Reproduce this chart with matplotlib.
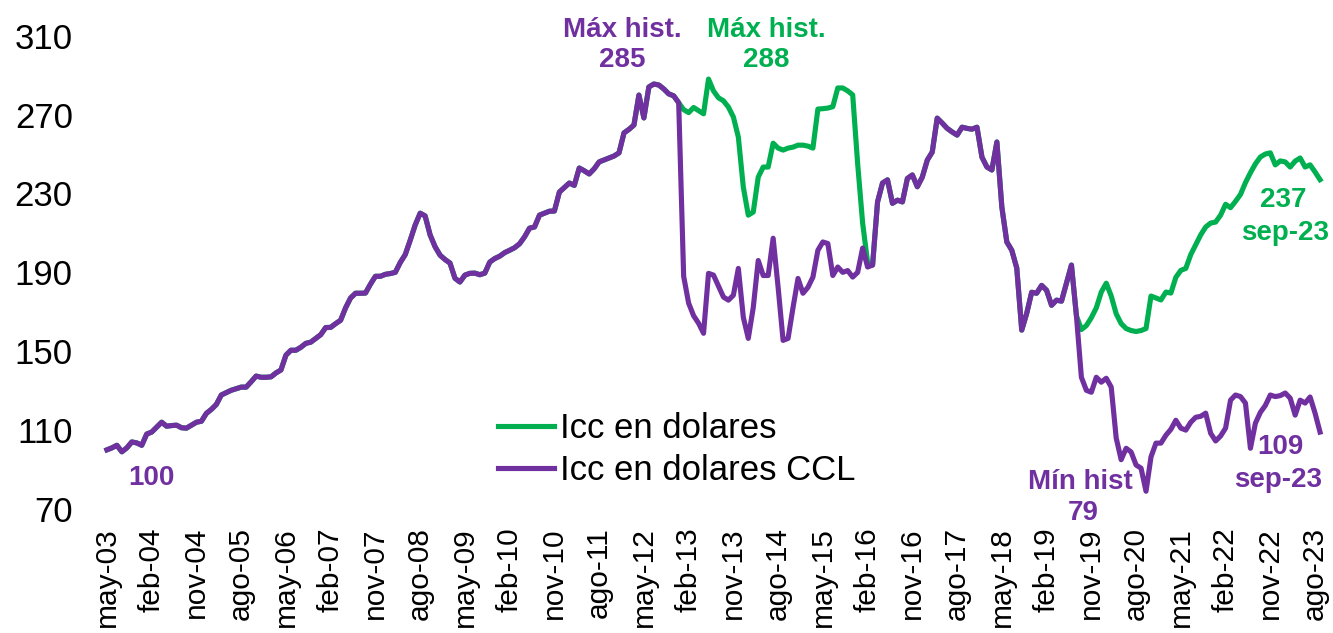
import matplotlib
matplotlib.use("Agg")
import matplotlib.pyplot as plt
import numpy as np
import pandas as pd

plt.rcParams["font.family"] = ["Liberation Sans", "DejaVu Sans"]

GREEN = "#00B050"
PURPLE = "#7030A0"

# monthly index, may-03 .. sep-23 (base may-03 = 100)
months = pd.period_range("2003-05", "2023-09", freq="M")

icc_ccl = [
    100, 101, 102.3, 99, 101, 104, 103.5, 102.3, 108, 109,
    111.5, 114, 112, 112.3, 112.5, 111.2, 111, 112.5, 114, 114.5,
    118.5, 120.5, 123, 127.8, 129, 130.2, 131, 131.8, 131.8, 134.5,
    137.4, 136.8, 136.8, 137, 139, 140.5, 148, 150.5, 150.5, 152,
    154, 154.6, 156.5, 158.4, 162, 162.1, 164, 165.7, 172, 177,
    179.4, 179.4, 179.5, 184, 188, 188, 189, 189.4, 190, 195,
    199, 206.3, 214, 220, 218.6, 209, 203, 198.7, 196.5, 194.7,
    187, 185.1, 188.6, 189.5, 189.6, 188.8, 189.6, 195.2, 197, 198.2,
    200, 201.2, 202.5, 204.5, 208, 212.4, 213, 219, 220, 221,
    221.1, 230.7, 233, 235.3, 234.1, 242.9, 241.5, 239.9, 242.5, 246,
    247, 248, 249, 250.6, 260.7, 262.5, 264.7, 279.9, 268.3, 284,
    285.5, 285, 283, 280.5, 279.5, 276, 188, 174.4, 168, 164.2,
    159.1, 189.5, 188.6, 183, 177.5, 175.9, 178.4, 192, 167.2, 156.5,
    172.2, 196, 188.4, 188.4, 207.3, 182.4, 155.5, 156.5, 172.2, 186.9,
    179.4, 182.4, 187.6, 201.2, 205.4, 204.6, 188.4, 192.7, 190, 190.9,
    187.6, 190, 202.3, 192.7, 193.7, 225.7, 235.3, 236.9, 225, 226.6,
    225.7, 237.6, 239.4, 233.4, 238.3, 246.9, 251, 268.2, 265.7, 263,
    261.2, 259.6, 263.6, 263, 262.6, 263.6, 248.4, 243.4, 241.9, 256.1,
    223.1, 205.4, 201.2, 192.2, 160.7, 169.2, 179.9, 179.4, 183.4, 180.9,
    173.3, 175.9, 175.4, 184.5, 193.7, 168, 136.8, 130.2, 129.2, 136.8,
    134.3, 136.3, 131.8, 106, 95, 100.8, 98.9, 92.3, 90.7, 79,
    96.4, 103.4, 103.4, 107.4, 110.4, 115, 111, 110, 114, 116.5,
    117, 118.6, 108.4, 104.5, 107, 111, 125.2, 127.8, 127, 123.7,
    100.8, 113.5, 119, 122.5, 127.8, 127, 127.5, 128.8, 126.2, 117.6,
    125.2, 123.7, 126.8, 118.6, 109,
]

# official-rate series: identical to CCL except in the two cepo periods
icc_cepo_1 = [  # nov-12 .. mar-16
    279.5, 276, 272.5, 271, 273.6, 272, 270.4, 288, 282, 278.5,
    277, 273.8, 268.8, 258.6, 233.2, 219, 220.6, 238.3, 243.4, 243.4,
    255.5, 253, 252, 253, 253.5, 254.5, 254.5, 254, 253, 272.8,
    273, 273.3, 274, 283.5, 283.5, 282, 280, 245, 215, 195,
    193.7,
]
icc_cepo_2 = [  # jul-19 .. sep-23
    193.7, 168, 161, 163, 167, 172, 180, 184.5, 178, 169,
    164, 161.5, 160.5, 160, 160.5, 161.5, 178, 177, 176, 180,
    179.5, 187.5, 191, 192, 199, 204, 209, 213, 215, 215.5,
    219, 224.5, 222.8, 226, 229.5, 235.5, 240.5, 245, 248.5, 250,
    250.6, 244.5, 246.5, 246, 243.4, 246.4, 248, 243.4, 244.5, 240.9,
    237,
]

tick_labels = [
    "may-03", "feb-04", "nov-04", "ago-05", "may-06", "feb-07", "nov-07",
    "ago-08", "may-09", "feb-10", "nov-10", "ago-11", "may-12", "feb-13",
    "nov-13", "ago-14", "may-15", "feb-16", "nov-16", "ago-17", "may-18",
    "feb-19", "nov-19", "ago-20", "may-21", "feb-22", "nov-22", "ago-23",
]
MES = {"may": 5, "feb": 2, "nov": 11, "ago": 8}

ccl = pd.Series(icc_ccl, index=months)
usd = ccl.copy()
usd.loc["2012-11":"2016-03"] = icc_cepo_1
usd.loc["2019-07":"2023-09"] = icc_cepo_2

x = np.arange(len(months))
pos = {p: i for i, p in enumerate(months)}
tick_pos = [pos[pd.Period(f"20{lab[-2:]}-{MES[lab[:3]]:02d}", freq="M")] for lab in tick_labels]

fig = plt.figure(figsize=(13.33, 6.33), dpi=100)
ax = fig.add_axes([0.0765, 0.1959, 0.9175, 0.7477])

ax.plot(x, usd.values, color=GREEN, lw=3.7, solid_joinstyle="round", label="Icc en dolares", zorder=2)
ax.plot(x, ccl.values, color=PURPLE, lw=3.7, solid_joinstyle="round", label="Icc en dolares CCL", zorder=3)

ax.set_xlim(-1, len(months))
ax.set_ylim(70, 310)
ax.set_yticks(np.arange(70, 311, 40))
ax.set_xticks(tick_pos)
ax.set_xticklabels(tick_labels, rotation=90)
ax.tick_params(axis="y", length=0, pad=21, labelsize=25)
ax.tick_params(axis="x", length=0, pad=13, labelsize=21.5)
for s in ax.spines.values():
    s.set_visible(False)

bold = dict(fontsize=20, fontweight="bold", ha="center", va="center", clip_on=False)
ax.text(103.6, 312.9, "Máx hist.", color=PURPLE, **bold)
ax.text(103.6, 297.7, "285", color=PURPLE, **bold)
ax.text(132.6, 312.9, "Máx hist.", color=GREEN, **bold)
ax.text(132.6, 297.7, "288", color=GREEN, **bold)
ax.text(9.0, 85.7, "100", color=PURPLE, **bold)
ax.text(195.8, 83.7, "Mín hist", color=PURPLE, **bold)
ax.text(196.4, 68.0, "79", color=PURPLE, **bold)
ax.text(236.6, 226.7, "237", color=GREEN, **bold)
ax.text(237.0, 210.0, "sep-23", color=GREEN, **bold)
ax.text(236.0, 101.4, "109", color=PURPLE, **bold)
ax.text(235.6, 84.6, "sep-23", color=PURPLE, **bold)

ax.legend(loc="upper left", bbox_to_anchor=(498 / 1333, 1 - 412 / 633),
          bbox_transform=fig.transFigure, frameon=False, fontsize=25,
          handlelength=1.6, handletextpad=0.2, labelspacing=0.25,
          borderpad=0, borderaxespad=0)

fig.savefig("out.png", dpi=100)
